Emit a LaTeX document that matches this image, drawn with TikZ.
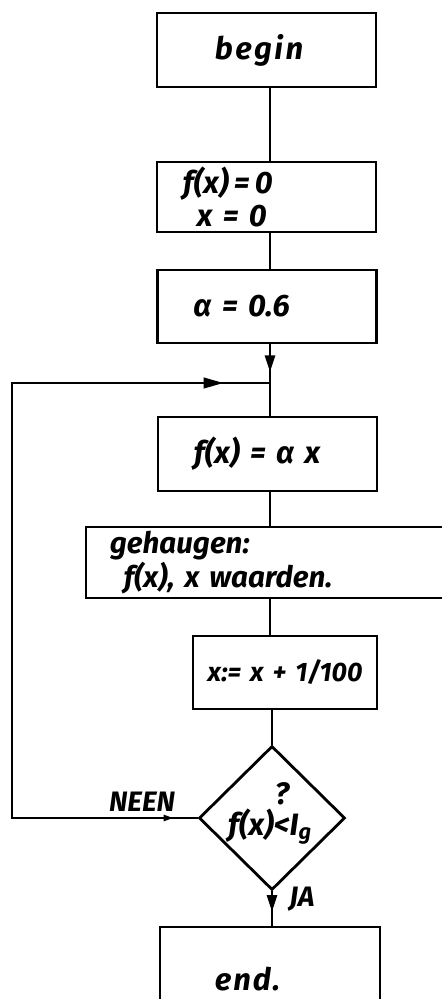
\documentclass[tikz,border=0pt]{standalone}
\usepackage{amsmath}
\usepackage{fontspec}
\setmainfont{Fira Sans}
\usetikzlibrary{arrows.meta,shapes.geometric,decorations.markings}

\tikzset{
  box/.style={draw, line width=2pt, inner ysep=0pt, align=left},
  flowtip/.style={decoration={markings, mark=at position #1 with {\arrow{Triangle[length=0.42cm,width=0.25cm]}}}, postaction={decorate}},
}

\begin{document}
\begin{tikzpicture}[x=0.025cm, y=-0.025cm, line width=2pt,
    font=\fontsize{22}{24}\selectfont\bfseries\itshape]
    \useasboundingbox (0,0) rectangle (441,999);

    % Draw the boxes
    \node[box, text width=2.575cm, inner xsep=1.45cm, minimum height=1.85cm] (begin) at (266.5,50) {\addfontfeature{LetterSpace=8}begin};
    \node[box, text width=4.175cm, inner xsep=0.65cm, minimum height=1.75cm] (init) at (266.5,197) {f(x)\,=\,0\\\hspace*{0.35cm}x = 0};
    \node[box, text width=3.675cm, inner xsep=0.9cm, minimum height=1.825cm] (alpha) at (267,306.5) {α = 0.6};
    \node[box, text width=3.675cm, inner xsep=0.9cm, minimum height=1.85cm] (fx) at (267.5,454) {f(x) = α x};
    \node[box, text width=8.4cm, inner xsep=0.6cm, minimum height=1.775cm,
          font=\fontsize{21}{19.5}\selectfont\bfseries\itshape] (mem) at (278,562.5) {gehaugen:\\\hspace*{0.35cm}f(x), x waarden.};
    \node[box, align=center, text width=4.3cm, inner xsep=0.15cm, minimum height=1.825cm,
          font=\fontsize{19}{23}\selectfont\bfseries\itshape] (step) at (285,672.5) {x:= x + 1/100};
    \node[draw, diamond, line width=2pt, minimum width=3.65cm, minimum height=3.6cm, inner sep=0pt] (test) at (272,818) {};
    \node (cond) at (270,812) {f(x)$\stackrel{\raisebox{5pt}{?}}{\mbox{<}}$I\textsubscript{g}};
    \node[box, text width=2.75cm, inner xsep=1.375cm, minimum height=2.6cm] (end) at (270,979) {\addfontfeature{LetterSpace=6}end.};

    % Labels of the two exits
    \node[font=\fontsize{20}{22}\selectfont\bfseries\itshape] (neen) at (142,802) {NEEN};
    \node[font=\fontsize{20}{22}\selectfont\bfseries\itshape] (ja) at (302,899) {JA};

    % Draw the connectors
    \coordinate (join) at (270,383);
    \coordinate (low) at (12,818);
    \coordinate (high) at (12,383);
    \draw (begin.south -| join) -- (init.north -| join);
    \draw (init.south -| join) -- (alpha.north -| join);
    \draw[flowtip=0.72] (alpha.south -| join) -- (join);
    \draw (join) -- (fx.north -| join);
    \draw (fx.south -| join) -- (mem.north -| join);
    \draw (mem.south -| join) -- (step.north -| join);
    \draw (step.south -| test.north) -- (test.north);
    \draw[flowtip=0.6] (test.south) -- (test.south |- end.north);

    % Draw the feedback loop
    \draw[decoration={markings,
            mark=at position 0.6cm with {\arrowreversed{Triangle[length=0.25cm,width=0.15cm]}},
            mark=at position 20.8cm with {\arrow{Triangle[length=0.5cm,width=0.26cm]}}},
          postaction={decorate}]
        (test.west) -- (low) -- (high) -- (join);
\end{tikzpicture}
\end{document}
